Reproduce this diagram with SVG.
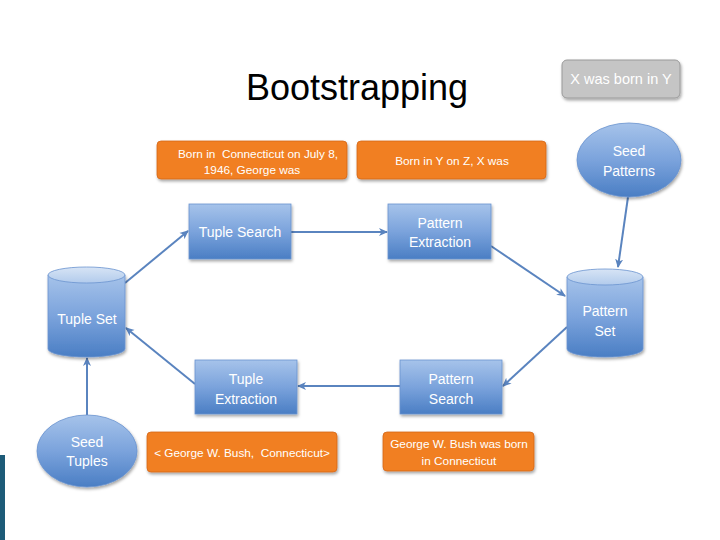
<svg xmlns="http://www.w3.org/2000/svg" width="720" height="540" viewBox="0 0 720 540">
<defs>
<linearGradient id="blue" x1="0" y1="0" x2="0" y2="1">
<stop offset="0" stop-color="#a6c3ea"/>
<stop offset="0.5" stop-color="#7ba3dc"/>
<stop offset="1" stop-color="#4a7ec4"/>
</linearGradient>
<linearGradient id="cylTop" x1="0" y1="0" x2="0" y2="1">
<stop offset="0" stop-color="#d7e4f5"/>
<stop offset="1" stop-color="#b2cbec"/>
</linearGradient>
<filter id="sh" x="-20%" y="-20%" width="140%" height="150%">
<feDropShadow dx="1" dy="2" stdDeviation="1.5" flood-color="#000" flood-opacity="0.35"/>
</filter>
<marker id="ah" markerWidth="10" markerHeight="10" refX="8" refY="5" orient="auto" markerUnits="userSpaceOnUse">
<path d="M0,1 L9,5 L0,9 L2.5,5 Z" fill="#5a84bf"/>
</marker>
</defs>
<style>
.t{font-family:"Liberation Sans",Arial,sans-serif;fill:#ffffff;text-anchor:middle;white-space:pre}
.b{font-size:14px}
.o{font-size:11.8px}
.box{fill:url(#blue);stroke:#6a93cf;stroke-width:0.8;filter:url(#sh)}
.or{fill:#f17f22;stroke:#d4681a;stroke-width:0.8;filter:url(#sh)}
.c{stroke:#5a84bf;stroke-width:2;fill:none;marker-end:url(#ah)}
</style>
<rect width="720" height="540" fill="#ffffff"/>
<rect x="0" y="455" width="5" height="85" fill="#1d5b78"/>
<text x="357" y="100" font-family="Liberation Sans,Arial,sans-serif" font-size="36" fill="#000" text-anchor="middle">Bootstrapping</text>

<g id="connectors">
<line class="c" x1="125" y1="283" x2="188" y2="231"/>
<line class="c" x1="291" y1="232" x2="387" y2="232"/>
<line class="c" x1="491" y1="246" x2="565" y2="296"/>
<line class="c" x1="628" y1="197" x2="618" y2="267"/>
<line class="c" x1="567" y1="327" x2="503" y2="386"/>
<line class="c" x1="400" y1="386" x2="298" y2="386"/>
<line class="c" x1="195" y1="384" x2="126" y2="328"/>
<line class="c" x1="87" y1="415" x2="87" y2="358"/>
</g>

<g id="xborn">
<rect x="562" y="60" width="118" height="38" rx="5" fill="#c5c5c5" stroke="#9a9a9a" stroke-width="1" filter="url(#sh)"/>
<text class="t" x="621" y="84" font-size="14.5">X was born in Y</text>
</g>

<g id="seedPatterns">
<ellipse cx="629" cy="160" rx="52" ry="37" fill="url(#blue)" stroke="#6a93cf" stroke-width="0.8" filter="url(#sh)"/>
<text class="t b" x="629" y="156">Seed</text>
<text class="t b" x="629" y="176">Patterns</text>
</g>

<g id="orange1">
<rect class="or" x="157" y="141" width="190" height="38" rx="4"/>
<text class="t o" x="258" y="158">Born in  Connecticut on July 8,</text>
<text class="t o" x="252" y="174">1946, George was</text>
</g>

<g id="orange2">
<rect class="or" x="357" y="141" width="189" height="38" rx="4"/>
<text class="t o" x="452" y="165">Born in Y on Z, X was</text>
</g>

<g id="tupleSearch">
<rect class="box" x="189" y="204" width="102" height="55"/>
<text class="t b" x="240" y="237">Tuple Search</text>
</g>

<g id="patternExtraction">
<rect class="box" x="388" y="204" width="103" height="55"/>
<text class="t b" x="440" y="228">Pattern</text>
<text class="t b" x="440" y="247">Extraction</text>
</g>

<g id="tupleSet">
<path d="M48,275 L48,349 A38.5,8 0 0 0 125,349 L125,275 Z" fill="url(#blue)" stroke="#6a93cf" stroke-width="0.8" filter="url(#sh)"/>
<ellipse cx="86.5" cy="275" rx="38.5" ry="8" fill="url(#cylTop)" stroke="#6a93cf" stroke-width="0.8"/>
<text class="t b" x="87" y="324">Tuple Set</text>
</g>

<g id="patternSet">
<path d="M567,277 L567,349 A38,8 0 0 0 643,349 L643,277 Z" fill="url(#blue)" stroke="#6a93cf" stroke-width="0.8" filter="url(#sh)"/>
<ellipse cx="605" cy="277" rx="38" ry="8" fill="url(#cylTop)" stroke="#6a93cf" stroke-width="0.8"/>
<text class="t b" x="605" y="316">Pattern</text>
<text class="t b" x="605" y="336">Set</text>
</g>

<g id="tupleExtraction">
<rect class="box" x="195" y="360" width="102" height="54"/>
<text class="t b" x="246" y="384">Tuple</text>
<text class="t b" x="246" y="404">Extraction</text>
</g>

<g id="patternSearch">
<rect class="box" x="400" y="360" width="102" height="54"/>
<text class="t b" x="451" y="384">Pattern</text>
<text class="t b" x="451" y="404">Search</text>
</g>

<g id="seedTuples">
<ellipse cx="87" cy="451" rx="50" ry="36" fill="url(#blue)" stroke="#6a93cf" stroke-width="0.8" filter="url(#sh)"/>
<text class="t b" x="87" y="447">Seed</text>
<text class="t b" x="87" y="466">Tuples</text>
</g>

<g id="orange3">
<rect class="or" x="147" y="432" width="190" height="40" rx="4"/>
<text class="t o" x="242" y="457">&lt; George W. Bush,  Connecticut&gt;</text>
</g>

<g id="orange4">
<rect class="or" x="383" y="432" width="151" height="39" rx="4"/>
<text class="t o" x="459" y="448">George W. Bush was born</text>
<text class="t o" x="459" y="465">in Connecticut</text>
</g>
</svg>
